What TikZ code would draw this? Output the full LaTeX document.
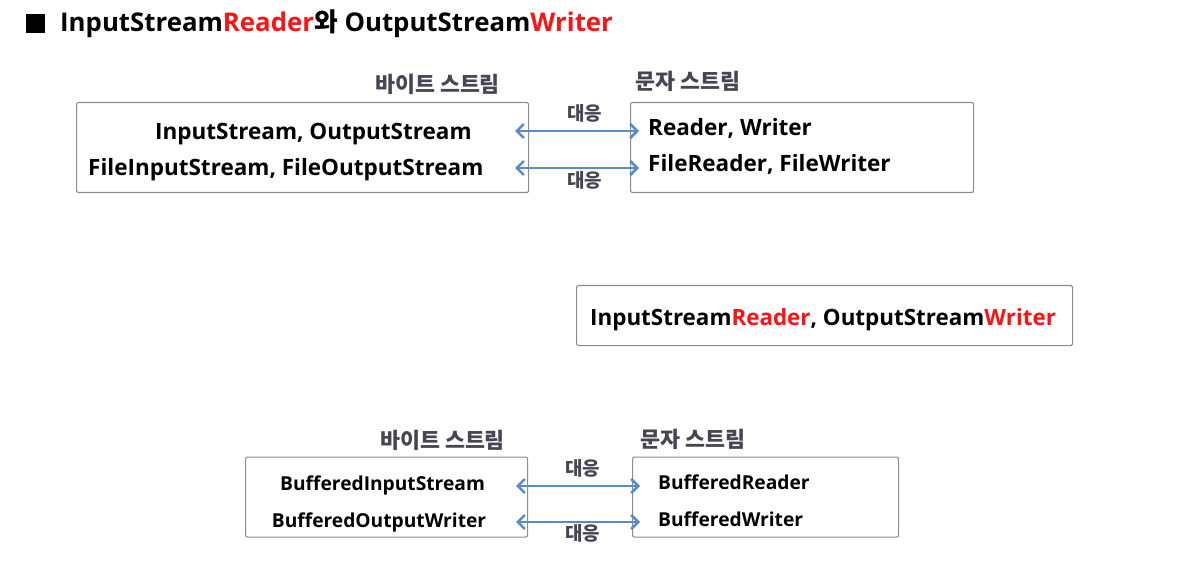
\documentclass[tikz,border=0pt]{standalone}
\usepackage{fontspec}
\setmainfont{Open Sans}
\newfontfamily\kr{Noto Sans CJK KR}
\usetikzlibrary{arrows.meta,positioning}

\definecolor{arrowblue}{RGB}{88,139,200}
\definecolor{boxgray}{RGB}{140,140,140}
\definecolor{labelgray}{RGB}{72,68,84}
\definecolor{hlred}{RGB}{250,20,20}

\begin{document}
\begin{tikzpicture}[x=1pt,y=-1pt,
    streambox/.style={draw=boxgray, line width=1.1pt, rounded corners=2pt,
        inner sep=0pt, anchor=north west},
    pairarrow/.style={arrowblue, line width=2.6pt,
        {Straight Barb[length=7pt,width=14pt]}-{Straight Barb[length=7pt,width=14pt]}},
    classtext/.style={inner sep=0pt, anchor=base west, font=\bfseries},
    kortext/.style={inner sep=0pt, anchor=base west, text=labelgray, font=\kr\bfseries}]
    \useasboundingbox (0,0) rectangle (1192,564);

    % 标题
    \node[fill=black, inner sep=0pt, minimum size=19pt, anchor=north west] (bullet) at (26,14) {};
    \node[classtext, font=\bfseries\fontsize{25.8}{30}\selectfont] (title) at (60,32)
        {InputStream\textcolor{hlred}{Reader}{\kr 와} OutputStream\textcolor{hlred}{Writer}};

    % 上方两个框
    \node[streambox, minimum width=452pt, minimum height=90pt] (byteTop) at (76,102) {};
    \node[streambox, minimum width=343pt, minimum height=90pt] (charTop) at (630,102) {};
    \node[kortext, font=\kr\bfseries\fontsize{21.7}{24}\selectfont] (byteTopLbl) at (375,93) {바이트 스트림};
    \node[kortext, font=\kr\bfseries\fontsize{21.7}{24}\selectfont] (charTopLbl) at (635,90) {문자 스트림};

    \node[classtext, font=\bfseries\fontsize{22.5}{26}\selectfont] (inOut) at (155,140) {InputStream, OutputStream};
    \node[classtext, font=\bfseries\fontsize{22.5}{26}\selectfont] (fileInOut) at (88,175.5) {FileInputStream, FileOutputStream};
    \node[classtext, font=\bfseries\fontsize{22.5}{26}\selectfont] (rdWr) at (648,136) {Reader, Writer};
    \node[classtext, font=\bfseries\fontsize{22.5}{26}\selectfont] (fileRdWr) at (648,171.7) {FileReader, FileWriter};

    % 上方箭头
    \coordinate (topA1) at (515,131);
    \coordinate (topB1) at (639,131);
    \coordinate (topA2) at (515,168);
    \coordinate (topB2) at (639,168);
    \draw[pairarrow] (topA1) -- (topB1);
    \draw[pairarrow] (topA2) -- (topB2);
    \node[kortext, font=\kr\bfseries\fontsize{19}{22}\selectfont] (topMap1) at (567,121) {대응};
    \node[kortext, font=\kr\bfseries\fontsize{19}{22}\selectfont] (topMap2) at (567,188) {대응};

    % 中间的框
    \node[streambox, minimum width=496pt, minimum height=60pt] (bridge) at (576,285) {};
    \node[classtext, font=\bfseries\fontsize{22.4}{27}\selectfont] (bridgeTxt) at (590,325)
        {InputStream\textcolor{hlred}{Reader}, OutputStream\textcolor{hlred}{Writer}};

    % 下方两个框
    \node[streambox, minimum width=282pt, minimum height=80pt] (byteBot) at (245,456.5) {};
    \node[streambox, minimum width=266pt, minimum height=80pt] (charBot) at (632,456.5) {};
    \node[kortext, font=\kr\bfseries\fontsize{21.7}{24}\selectfont] (byteBotLbl) at (380,448) {바이트 스트림};
    \node[kortext, font=\kr\bfseries\fontsize{21.7}{24}\selectfont] (charBotLbl) at (640,447) {문자 스트림};

    \node[classtext, font=\bfseries\fontsize{19.2}{23}\selectfont] (bufIn) at (280,490.7) {BufferedInputStream};
    \node[classtext, font=\bfseries\fontsize{19.2}{23}\selectfont] (bufOut) at (271.7,527.3) {BufferedOutputWriter};
    \node[classtext, font=\bfseries\fontsize{19.2}{23}\selectfont] (bufRd) at (658,489.3) {BufferedReader};
    \node[classtext, font=\bfseries\fontsize{19.2}{23}\selectfont] (bufWr) at (658,526) {BufferedWriter};

    % 下方箭头
    \coordinate (botA1) at (516,486);
    \coordinate (botB1) at (640,486);
    \coordinate (botA2) at (516,522);
    \coordinate (botB2) at (640,522);
    \draw[pairarrow] (botA1) -- (botB1);
    \draw[pairarrow] (botA2) -- (botB2);
    \node[kortext, font=\kr\bfseries\fontsize{19}{22}\selectfont] (botMap1) at (565,475) {대응};
    \node[kortext, font=\kr\bfseries\fontsize{19}{22}\selectfont] (botMap2) at (565,540) {대응};
\end{tikzpicture}
\end{document}
